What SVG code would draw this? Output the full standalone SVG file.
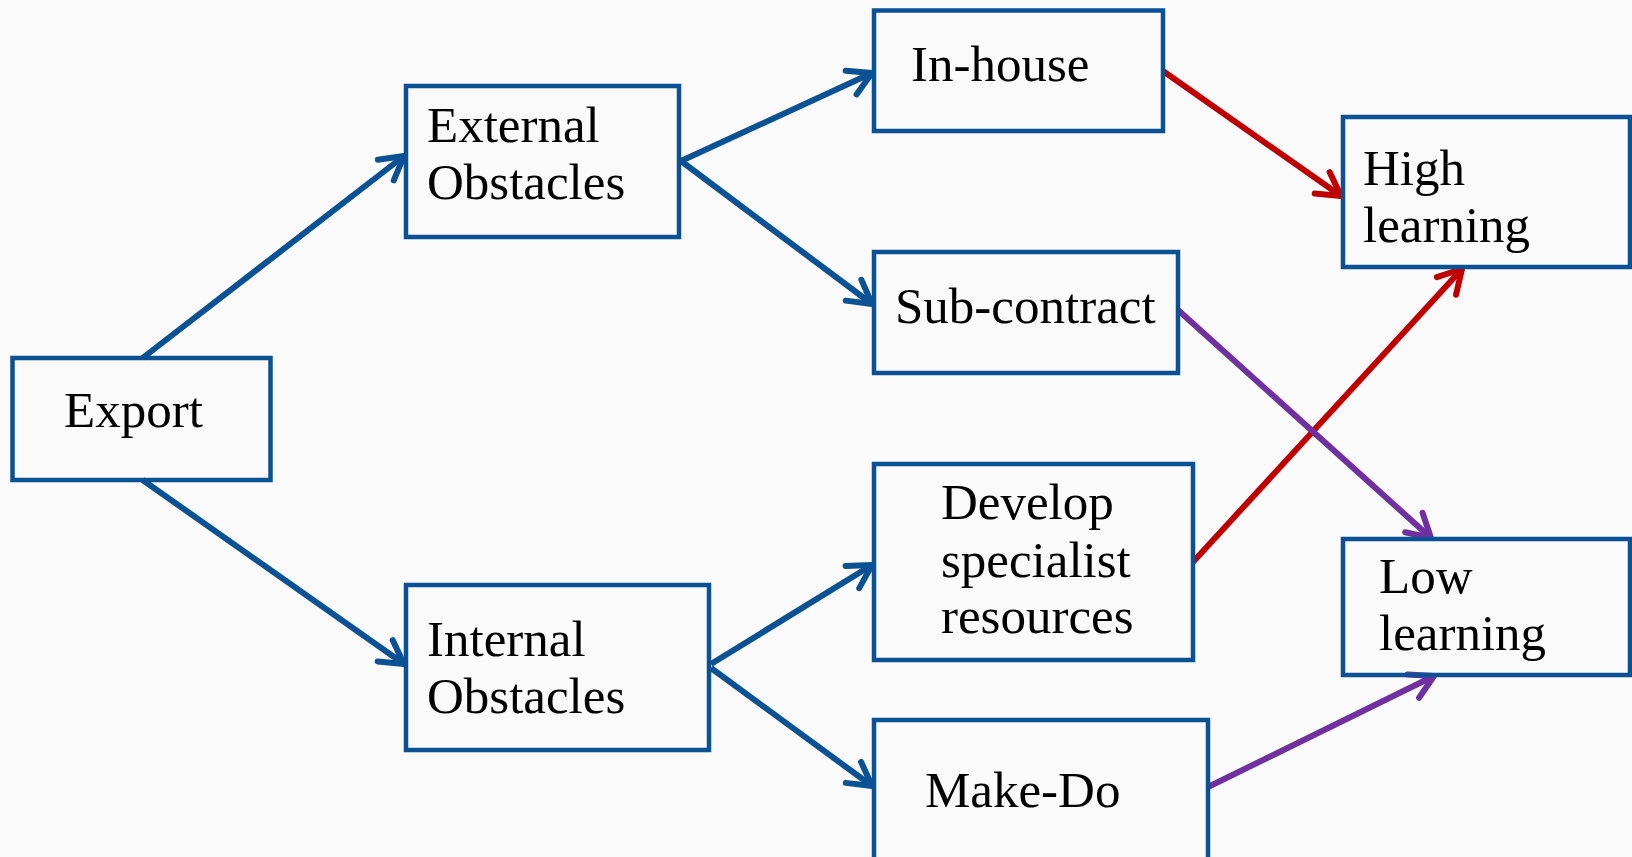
<svg xmlns="http://www.w3.org/2000/svg" width="1632" height="857" viewBox="0 0 1632 857">
<style>
.box{fill:none;stroke:#0b5294;stroke-width:4.5}
.t{font-family:"Liberation Serif","Times New Roman",serif;font-size:51px;fill:#000}
.c{fill:none;stroke-width:6}
.blue{stroke:#0b5294}
.red{stroke:#c00000}
.pur{stroke:#7030a0}
</style>
<defs>
<marker id="mb" markerUnits="userSpaceOnUse" viewBox="-2 -18 36 36" markerWidth="36" markerHeight="36" refX="29" refY="0" orient="auto"><path d="M6,-13 L29,0 L6,13" fill="none" stroke="#0b5294" stroke-width="6" stroke-linecap="round" stroke-linejoin="round"/></marker>
<marker id="mr" markerUnits="userSpaceOnUse" viewBox="-2 -18 36 36" markerWidth="36" markerHeight="36" refX="29" refY="0" orient="auto"><path d="M6,-13 L29,0 L6,13" fill="none" stroke="#c00000" stroke-width="6" stroke-linecap="round" stroke-linejoin="round"/></marker>
<marker id="mp" markerUnits="userSpaceOnUse" viewBox="-2 -18 36 36" markerWidth="36" markerHeight="36" refX="29" refY="0" orient="auto"><path d="M6,-13 L29,0 L6,13" fill="none" stroke="#7030a0" stroke-width="6" stroke-linecap="round" stroke-linejoin="round"/></marker>
</defs>
<rect x="0" y="0" width="1632" height="857" fill="#fafafa"/>
<g id="connectors">
<line class="c blue" x1="142.6" y1="358" x2="404" y2="156" marker-end="url(#mb)"/>
<line class="c blue" x1="142.6" y1="480" x2="404" y2="664" marker-end="url(#mb)"/>
<line class="c blue" x1="681" y1="161" x2="872" y2="73" marker-end="url(#mb)"/>
<line class="c blue" x1="681" y1="161" x2="872" y2="304" marker-end="url(#mb)"/>
<line class="c blue" x1="711" y1="664" x2="872" y2="565" marker-end="url(#mb)"/>
<line class="c blue" x1="711" y1="668" x2="872" y2="786" marker-end="url(#mb)"/>
<line class="c red" x1="1163" y1="71" x2="1341" y2="196" marker-end="url(#mr)"/>
<line class="c red" x1="1193" y1="562" x2="1462" y2="269" marker-end="url(#mr)"/>
<line class="c pur" x1="1178" y1="310" x2="1431" y2="538" marker-end="url(#mp)"/>
<line class="c pur" x1="1208" y1="787" x2="1434" y2="676" marker-end="url(#mp)"/>
</g>
<g id="export"><rect class="box" x="12.5" y="358" width="258" height="122"/><text class="t" x="64" y="427">Export</text></g>
<g id="external"><rect class="box" x="406" y="86" width="273" height="151"/><text class="t" x="427" y="142">External</text><text class="t" x="427" y="199">Obstacles</text></g>
<g id="internal"><rect class="box" x="406" y="585" width="303" height="165"/><text class="t" x="427" y="656">Internal</text><text class="t" x="427" y="713">Obstacles</text></g>
<g id="inhouse"><rect class="box" x="874" y="10.5" width="289" height="120.5"/><text class="t" x="911" y="81">In-house</text></g>
<g id="subcontract"><rect class="box" x="874" y="252" width="304" height="121"/><text class="t" x="895" y="323">Sub-contract</text></g>
<g id="develop"><rect class="box" x="874" y="464" width="319" height="196"/><text class="t" x="941" y="519">Develop</text><text class="t" x="941" y="577">specialist</text><text class="t" x="941" y="633">resources</text></g>
<g id="makedo"><rect class="box" x="874" y="720" width="334" height="150"/><text class="t" x="925" y="807">Make-Do</text></g>
<g id="high"><rect class="box" x="1343" y="117" width="287" height="150"/><text class="t" x="1363" y="185">High</text><text class="t" x="1363" y="242">learning</text></g>
<g id="low"><rect class="box" x="1343" y="539" width="287" height="136"/><text class="t" x="1379" y="593">Low</text><text class="t" x="1379" y="650">learning</text></g>
</svg>
